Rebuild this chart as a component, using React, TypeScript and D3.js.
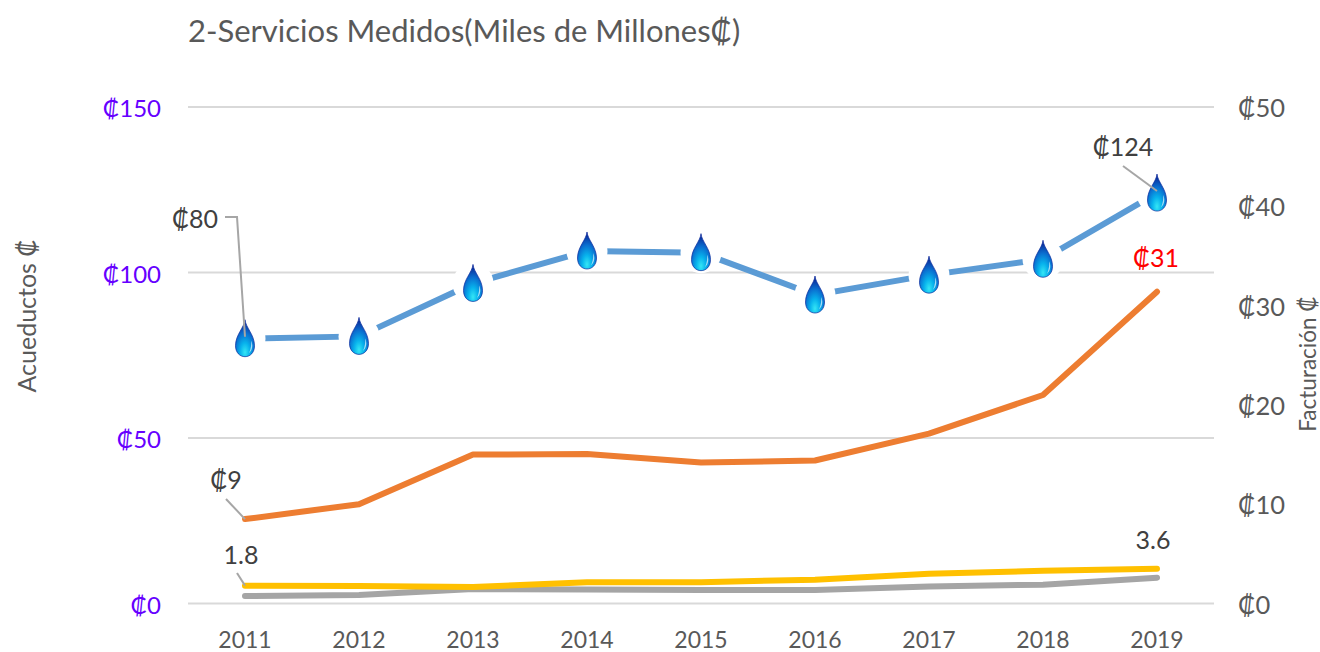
import React from "react";
import * as d3 from "d3";

const years = ["2011", "2012", "2013", "2014", "2015", "2016", "2017", "2018", "2019"];
// eje izquierdo
const acueductos = [80, 80.7, 96.7, 106.5, 106, 93.2, 99.2, 104, 124];
// eje derecho
const facturacion = [8.5, 10, 15, 15.05, 14.2, 14.4, 17.1, 21, 31.4];
const amarilla = [1.8, 1.75, 1.65, 2.15, 2.15, 2.4, 3, 3.3, 3.5];
const gris = [0.75, 0.85, 1.45, 1.4, 1.35, 1.35, 1.7, 1.9, 2.6];
const leftTicks = [0, 50, 100, 150];
const rightTicks = [0, 10, 20, 30, 40, 50];

const FONT = "Lato, 'Open Sans', 'DejaVu Sans', sans-serif";

const x = d3.scaleBand().domain(years).range([188, 1214]);
const yLeft = d3.scaleLinear().domain([0, 150]).range([603.5, 107]);
const yRight = d3.scaleLinear().domain([0, 50]).range([603.5, 107]);
const cx = (y: string) => (x(y) as number) + x.bandwidth() / 2;

const lineRight = (values: number[]) =>
  d3.line<number>().x((_, i) => cx(years[i])).y((d) => yRight(d))(values) as string;
const lineLeft = d3.line<number>().x((_, i) => cx(years[i])).y((d) => yLeft(d))(acueductos) as string;

const DROP = "M0,-19 C0.8,-11 9.5,-4 9.5,7 C9.5,14 5,18 0,18 C-5,18 -9.5,14 -9.5,7 C-9.5,-4 -0.8,-11 0,-19 Z";
const BRILLO = "M6.2,2 C8,6 7.8,11 4,14.5 C6,10 6.4,6 6.2,2 Z";

export default function App() {
  const pt = (i: number) => [cx(years[i]), yLeft(acueductos[i])];
  const first = pt(0);
  const last = pt(8);
  return (
    <svg width={1320} height={652} style={{ position: "absolute", left: 0, top: 0 }} fontFamily={FONT}>
      <defs>
        <radialGradient id="gota" cx="50%" cy="88%" r="85%">
          <stop offset="0%" stopColor="#35e6f5" />
          <stop offset="30%" stopColor="#07b2ec" />
          <stop offset="62%" stopColor="#0a6fd0" />
          <stop offset="100%" stopColor="#0a1f8f" />
        </radialGradient>
      </defs>
      <rect width={1320} height={652} fill="#fff" />

      <text x={188} y={42} fontSize={31} fill="#595959">2-Servicios Medidos(Miles de Millones₡)</text>

      {leftTicks.map((t) => (
        <g key={t}>
          <line x1={188} x2={1214} y1={yLeft(t)} y2={yLeft(t)} stroke="#d9d9d9" strokeWidth={2} />
          <text x={161} y={yLeft(t) + 10} textAnchor="end" fontSize={24} fill="#6600ff">₡{t}</text>
        </g>
      ))}
      {rightTicks.map((t) => (
        <text key={t} x={1238} y={yRight(t) + 10} fontSize={25.5} fill="#595959">₡{t}</text>
      ))}
      {years.map((y) => (
        <text key={y} x={cx(y)} y={647.5} textAnchor="middle" fontSize={23} fill="#595959">{y}</text>
      ))}

      <text transform="translate(36,316) rotate(-90)" textAnchor="middle" fontSize={25} fill="#595959">Acueductos ₡</text>
      <text transform="translate(1316,364) rotate(-90)" textAnchor="middle" fontSize={22.5} fill="#595959">Facturación ₡</text>

      <path d={lineRight(gris)} fill="none" stroke="#a5a5a5" strokeWidth={6} strokeLinecap="round" strokeLinejoin="round" />
      <path d={lineRight(amarilla)} fill="none" stroke="#ffc000" strokeWidth={6} strokeLinecap="round" strokeLinejoin="round" />
      <path d={lineRight(facturacion)} fill="none" stroke="#ed7d31" strokeWidth={6} strokeLinecap="round" strokeLinejoin="round" />
      <path d={lineLeft} fill="none" stroke="#5b9bd5" strokeWidth={6} />

      {years.map((y, i) => {
        const [px, py] = pt(i);
        return (
          <g key={y} transform={`translate(${px},${py})`}>
            <circle r={20.5} fill="#fff" />
            <path d={DROP} fill="url(#gota)" stroke="#0a2a9c" strokeWidth={0.7} />
            <path d={BRILLO} fill="#cfeffb" opacity={0.8} />
          </g>
        );
      })}

      {/* etiquetas con guia */}
      <g stroke="#a6a6a6" strokeWidth={2} fill="none">
        <polyline points={`225,217 237,217 ${first[0]},${first[1] - 2}`} />
        <polyline points={`1123,166 ${last[0]},${last[1] - 2}`} />
        <polyline points={`226,499 ${cx(years[0])},${yRight(facturacion[0])}`} />
        <polyline points={`237,573 ${cx(years[0])},${yRight(amarilla[0])}`} />
      </g>
      <text x={195} y={228} textAnchor="middle" fontSize={25} fill="#404040">₡80</text>
      <text x={1123} y={156} textAnchor="middle" fontSize={25} fill="#404040">₡124</text>
      <text x={1156} y={267} textAnchor="middle" fontSize={25} fill="#ff0000">₡31</text>
      <text x={226} y={489} textAnchor="middle" fontSize={25} fill="#404040">₡9</text>
      <text x={241} y={564} textAnchor="middle" fontSize={25} fill="#404040">1.8</text>
      <text x={1153} y={549} textAnchor="middle" fontSize={25} fill="#404040">3.6</text>
    </svg>
  );
}
